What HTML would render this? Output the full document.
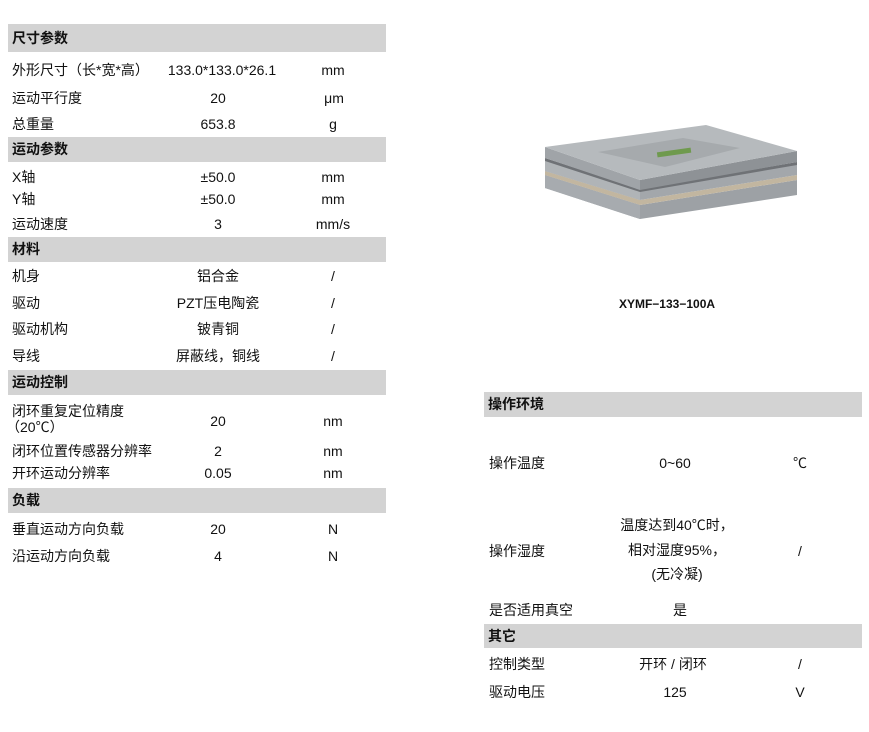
<!DOCTYPE html>
<html><head><meta charset="utf-8"><style>
body{margin:0;width:869px;height:732px;background:#fff;position:relative;font-family:"Liberation Sans","Noto Sans CJK SC",sans-serif;font-size:14px;color:#111;overflow:hidden}
.bar{position:absolute;background:#d3d3d3;font-weight:bold;padding-left:4px;box-sizing:border-box}
.t{position:absolute;white-space:nowrap;line-height:16px}
.c{position:absolute;white-space:nowrap;line-height:16px;transform:translateX(-50%);text-align:center}
</style></head><body>
<div class="bar" style="left:8px;top:24px;width:378px;height:28px;line-height:28px">尺寸参数</div>
<div class="t" style="left:12px;top:62px">外形尺寸（长*宽*高）</div><div class="c" style="left:222px;top:62px">133.0*133.0*26.1</div><div class="c" style="left:333px;top:62px">mm</div>
<div class="t" style="left:12px;top:90px">运动平行度</div><div class="c" style="left:218px;top:90px">20</div><div class="c" style="left:334px;top:90px">μm</div>
<div class="t" style="left:12px;top:116px">总重量</div><div class="c" style="left:218px;top:116px">653.8</div><div class="c" style="left:333px;top:116px">g</div>
<div class="bar" style="left:8px;top:137px;width:378px;height:25px;line-height:25px">运动参数</div>
<div class="t" style="left:12px;top:169px">X轴</div><div class="c" style="left:218px;top:169px">±50.0</div><div class="c" style="left:333px;top:169px">mm</div>
<div class="t" style="left:12px;top:191px">Y轴</div><div class="c" style="left:218px;top:191px">±50.0</div><div class="c" style="left:333px;top:191px">mm</div>
<div class="t" style="left:12px;top:216px">运动速度</div><div class="c" style="left:218px;top:216px">3</div><div class="c" style="left:333px;top:216px">mm/s</div>
<div class="bar" style="left:8px;top:237px;width:378px;height:25px;line-height:25px">材料</div>
<div class="t" style="left:12px;top:268px">机身</div><div class="c" style="left:218px;top:268px">铝合金</div><div class="c" style="left:333px;top:268px">/</div>
<div class="t" style="left:12px;top:295px">驱动</div><div class="c" style="left:218px;top:295px">PZT压电陶瓷</div><div class="c" style="left:333px;top:295px">/</div>
<div class="t" style="left:12px;top:321px">驱动机构</div><div class="c" style="left:218px;top:321px">铍青铜</div><div class="c" style="left:333px;top:321px">/</div>
<div class="t" style="left:12px;top:348px">导线</div><div class="c" style="left:218px;top:348px">屏蔽线，铜线</div><div class="c" style="left:333px;top:348px">/</div>
<div class="bar" style="left:8px;top:370px;width:378px;height:25px;line-height:25px">运动控制</div>
<div class="t" style="left:12px;top:403px">闭环重复定位精度</div><div class="t" style="left:6px;top:419px">（20℃）</div><div class="c" style="left:218px;top:413px">20</div><div class="c" style="left:333px;top:413px">nm</div>
<div class="t" style="left:12px;top:443px">闭环位置传感器分辨率</div><div class="c" style="left:218px;top:443px">2</div><div class="c" style="left:333px;top:443px">nm</div>
<div class="t" style="left:12px;top:465px">开环运动分辨率</div><div class="c" style="left:218px;top:465px">0.05</div><div class="c" style="left:333px;top:465px">nm</div>
<div class="bar" style="left:8px;top:488px;width:378px;height:25px;line-height:25px">负载</div>
<div class="t" style="left:12px;top:521px">垂直运动方向负载</div><div class="c" style="left:218px;top:521px">20</div><div class="c" style="left:333px;top:521px">N</div>
<div class="t" style="left:12px;top:548px">沿运动方向负载</div><div class="c" style="left:218px;top:548px">4</div><div class="c" style="left:333px;top:548px">N</div>

<svg style="position:absolute;left:0;top:0" width="869" height="300">
<!-- bottom plate -->
<polygon points="545,175 640,205 797,180 797,195 640,219 545,188" fill="#9da1a5"/>
<polygon points="545,175 640,205 640,219 545,188" fill="#a7abaf"/>
<!-- beige strip -->
<polygon points="545,171 640,200 797,175 797,180 640,205 545,175" fill="#c2b6a0"/>
<!-- middle plate -->
<polygon points="545,160 640,191 797,164 797,175 640,200 545,171" fill="#a3a7ab"/>
<polygon points="545,160 640,191 640,200 545,171" fill="#b0b4b7"/>
<!-- gap -->
<polygon points="545,158 640,189 797,162 797,165 640,192 545,161" fill="#6f7276"/>
<!-- top plate sides -->
<polygon points="545,147 640,180 640,190 545,158" fill="#a0a4a8"/>
<polygon points="640,180 797,151 797,162 640,190" fill="#8e9296"/>
<!-- top face -->
<polygon points="545,147 706,125 797,151 640,180" fill="#b6babd"/>
<polygon points="598,152 683,138 740,148 665,167" fill="#a6aaad"/>
<rect x="657" y="150" width="34" height="5" fill="#6f9a4e" transform="rotate(-8 674 152)"/>
</svg>
<div class="c" style="left:667px;top:296px;font-weight:bold;font-size:12px">XYMF−133−100A</div>

<div class="bar" style="left:484px;top:392px;width:378px;height:25px;line-height:25px">操作环境</div>
<div class="t" style="left:489px;top:455px">操作温度</div><div class="c" style="left:675px;top:455px">0~60</div><div class="c" style="left:800px;top:455px">℃</div>
<div class="c" style="left:677px;top:517px">温度达到40℃时，</div>
<div class="t" style="left:489px;top:543px">操作湿度</div><div class="c" style="left:677px;top:542px">相对湿度95%，</div><div class="c" style="left:800px;top:543px">/</div>
<div class="c" style="left:677px;top:566px">(无冷凝)</div>
<div class="t" style="left:489px;top:602px">是否适用真空</div><div class="c" style="left:680px;top:602px">是</div>
<div class="bar" style="left:484px;top:624px;width:378px;height:24px;line-height:24px">其它</div>
<div class="t" style="left:489px;top:656px">控制类型</div><div class="c" style="left:673px;top:656px">开环 / 闭环</div><div class="c" style="left:800px;top:656px">/</div>
<div class="t" style="left:489px;top:684px">驱动电压</div><div class="c" style="left:675px;top:684px">125</div><div class="c" style="left:800px;top:684px">V</div>
</body></html>
